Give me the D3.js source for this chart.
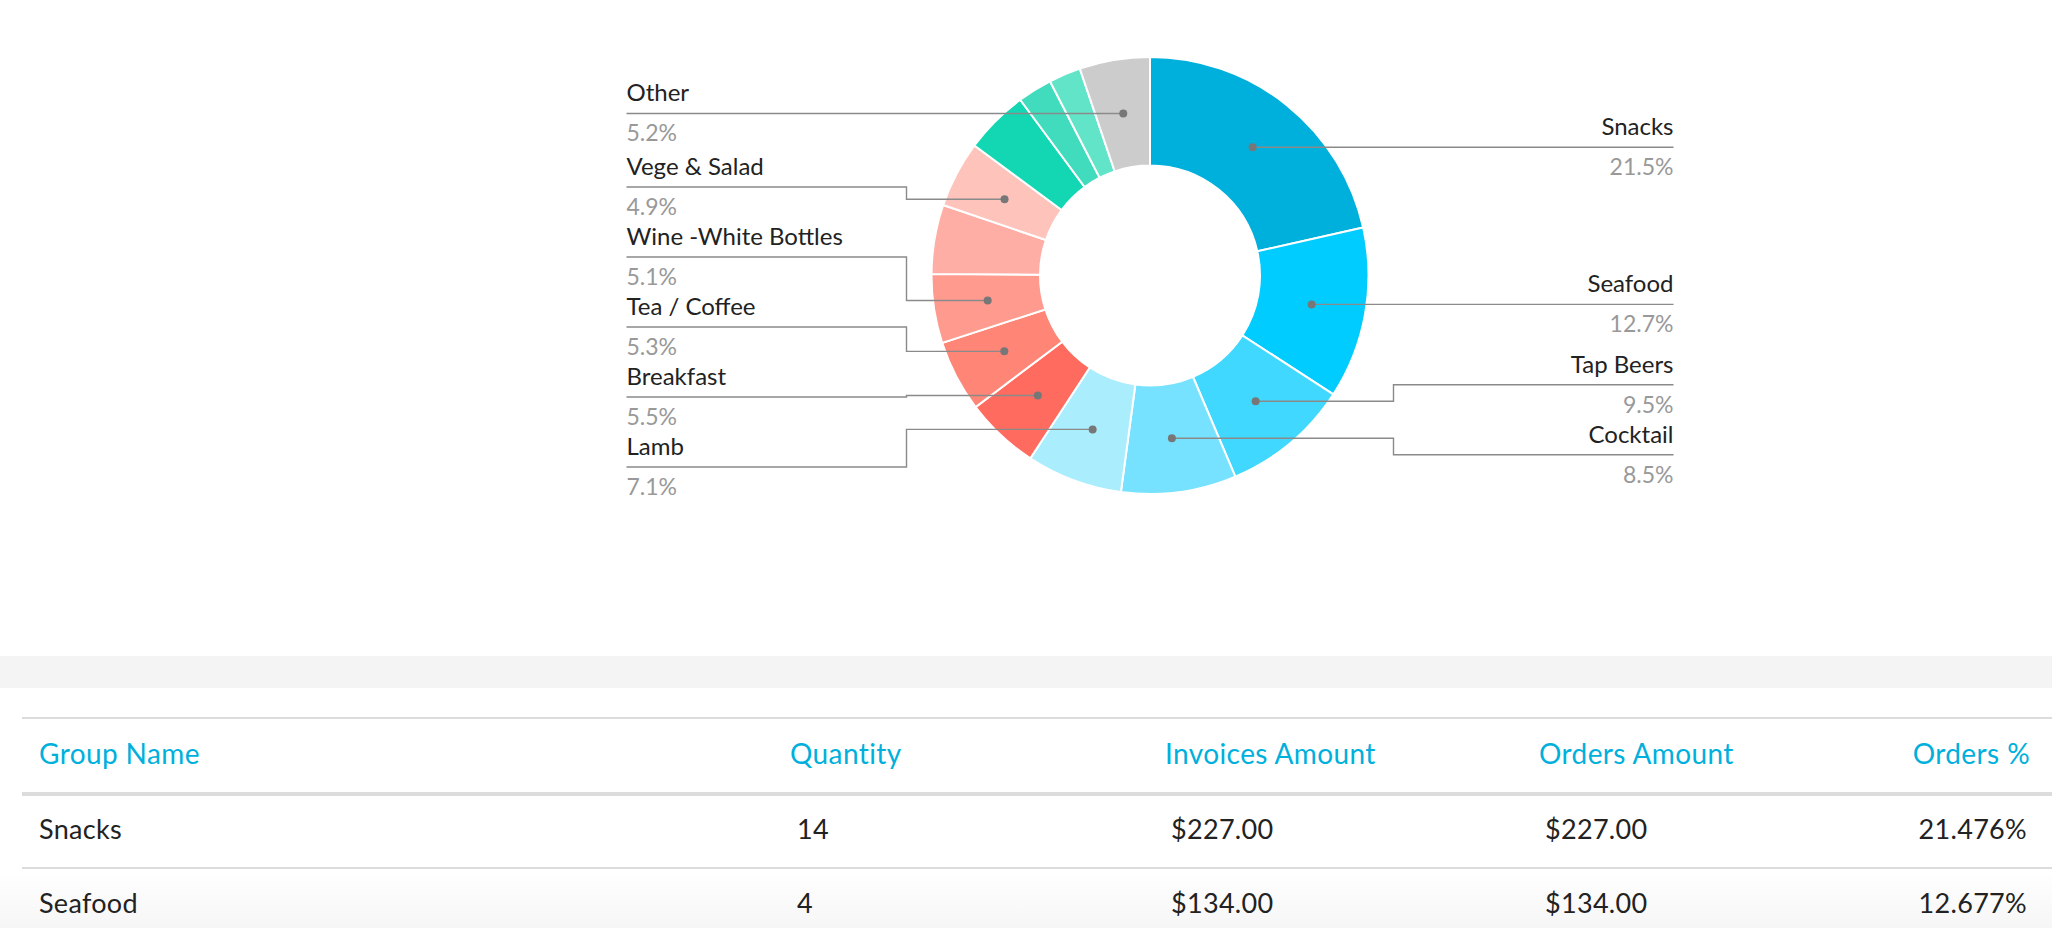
<!DOCTYPE html>
<html>
<head>
<meta charset="utf-8">
<script src="https://cdn.jsdelivr.net/npm/d3@7/dist/d3.min.js"></script>
<style>
  body { margin: 0; background: #fff; overflow: hidden; font-family: Lato, "Open Sans", sans-serif; }
</style>
</head>
<body>
<svg id="page"></svg>
<script>
// slices, clockwise from 12 o'clock
const categories = ["Snacks", "Seafood", "Tap Beers", "Cocktail", "Lamb", "Breakfast", "Tea / Coffee",
  "Wine -White Bottles", "Wine -Red Bottles", "Vege & Salad", "Desserts", "Soft Drinks", "Juice", "Other"];
const amounts = [227, 134, 100, 90, 75, 58, 56, 54, 54, 52, 50, 27, 25, 55];
const colors = ["#00b0dc", "#00ccff", "#40d8ff", "#77e2ff", "#aaedfd", "#ff6b5e", "#ff8577",
  "#ff9a8f", "#ffaea5", "#fec4bc", "#13d7b3", "#40dcbd", "#62e4c9", "#cccccc"];
// only these got a label on the chart
const labelled = ["Snacks", "Seafood", "Tap Beers", "Cocktail", "Lamb", "Breakfast", "Tea / Coffee",
  "Wine -White Bottles", "Vege & Salad", "Other"];

// table (first rows visible)
const tableHeaders = ["Group Name", "Quantity", "Invoices Amount", "Orders Amount", "Orders %"];
const tableGroups = ["Snacks", "Seafood"];
const tableQuantities = [14, 4];

const W = 2052, H = 928;
const cx = 1150, cy = 275.5, R = 218.5, r0 = 110;

const svg = d3.select("#page").attr("width", W).attr("height", H);

const total = d3.sum(amounts);
const data = categories.map((c, i) => ({ name: c, amount: amounts[i], color: colors[i] }));

const pie = d3.pie().sort(null).value(d => d.amount);
const arc = d3.arc().innerRadius(r0).outerRadius(R);
const arcs = pie(data);

const g = svg.append("g").attr("transform", `translate(${cx},${cy})`);

g.selectAll("path.slice")
  .data(arcs)
  .join("path")
  .attr("class", "slice")
  .attr("d", arc)
  .attr("fill", d => d.data.color)
  .attr("stroke", "#fff")
  .attr("stroke-width", 2);

// label layout: keep labels apart on each side
const gap = 70, yMin = -R, yMax = R - 27;
let labels = arcs.filter(d => labelled.includes(d.data.name)).map(d => {
  const c = arc.centroid(d);
  const mid = (d.startAngle + d.endAngle) / 2;
  return { d: d, c: c, y0: c[1], y: c[1], right: mid < Math.PI };
});

function relax(items) {
  items.sort((a, b) => a.y0 - b.y0);
  for (let k = 0; k < 300; k++) {
    for (let i = 1; i < items.length; i++) {
      const a = items[i - 1], b = items[i], o = gap - (b.y - a.y);
      if (o > 0) { a.y -= o / 2; b.y += o / 2; }
    }
    items.forEach(p => p.y = Math.max(yMin, Math.min(yMax, p.y)));
  }
}
relax(labels.filter(p => p.right));
relax(labels.filter(p => !p.right));

const elbow = R + 25, textX = R + 305;

const lab = g.selectAll("g.label").data(labels).join("g").attr("class", "label");

lab.append("polyline")
  .attr("points", p => {
    const s = p.right ? 1 : -1;
    return [[p.c[0], p.c[1]], [s * elbow, p.c[1]], [s * elbow, p.y], [s * textX, p.y]].join(" ");
  })
  .attr("fill", "none")
  .attr("stroke", "#8a8a8a")
  .attr("stroke-width", 1.4);

lab.append("circle")
  .attr("cx", p => p.c[0])
  .attr("cy", p => p.c[1])
  .attr("r", 4)
  .attr("fill", "#777");

lab.append("text")
  .attr("x", p => p.right ? textX : -textX)
  .attr("y", p => p.y - 12)
  .attr("text-anchor", p => p.right ? "end" : "start")
  .attr("font-size", 24)
  .attr("fill", "#222")
  .text(p => p.d.data.name);

lab.append("text")
  .attr("x", p => p.right ? textX : -textX)
  .attr("y", p => p.y + 28)
  .attr("text-anchor", p => p.right ? "end" : "start")
  .attr("font-size", 23)
  .attr("fill", "#999")
  .text(p => d3.format(".1f")(p.d.data.amount / total * 100) + "%");

// ---- table below the chart
svg.append("rect").attr("x", 0).attr("y", 656).attr("width", W).attr("height", 32).attr("fill", "#f4f4f4");

const grad = svg.append("defs").append("linearGradient").attr("id", "fade").attr("x1", 0).attr("y1", 0).attr("x2", 0).attr("y2", 1);
grad.append("stop").attr("offset", 0).attr("stop-color", "#fff");
grad.append("stop").attr("offset", 1).attr("stop-color", "#f6f6f6");
svg.append("rect").attr("x", 0).attr("y", 872).attr("width", W).attr("height", H - 872).attr("fill", "url(#fade)");

const colX = [39, 790, 1165, 1539, 2030];
const cellX = [39, 797, 1171, 1545, 2027];
const colAnchor = ["start", "start", "start", "start", "end"];
const tableLeft = 22, headTop = 718, headBase = 764, headLine = 794, rowH = 74;

svg.append("line").attr("x1", tableLeft).attr("x2", W).attr("y1", headTop).attr("y2", headTop)
  .attr("stroke", "#dcdcdc").attr("stroke-width", 2);

svg.selectAll("text.head").data(tableHeaders).join("text")
  .attr("class", "head")
  .attr("x", (d, i) => colX[i]).attr("y", headBase)
  .attr("text-anchor", (d, i) => colAnchor[i])
  .attr("font-size", 28).attr("letter-spacing", 0.4).attr("fill", "#00b0dc")
  .text(d => d);

svg.append("line").attr("x1", tableLeft).attr("x2", W).attr("y1", headLine).attr("y2", headLine)
  .attr("stroke", "#dcdcdc").attr("stroke-width", 4);

const money = d3.format("$,.2f");
const rows = tableGroups.map((name, i) => {
  const amt = amounts[categories.indexOf(name)];
  return [name, tableQuantities[i], money(amt), money(amt), d3.format(".3f")(amt / total * 100) + "%"];
});

const row = svg.selectAll("g.row").data(rows).join("g")
  .attr("class", "row")
  .attr("transform", (d, i) => `translate(0,${headLine + i * rowH})`);

row.selectAll("text").data(d => d).join("text")
  .attr("x", (d, i) => cellX[i]).attr("y", 45)
  .attr("text-anchor", (d, i) => colAnchor[i])
  .attr("font-size", 27).attr("letter-spacing", 0.3).attr("fill", "#222")
  .text(d => d);

row.append("line").attr("x1", tableLeft).attr("x2", W).attr("y1", rowH).attr("y2", rowH)
  .attr("stroke", "#dcdcdc").attr("stroke-width", 2);
</script>
</body>
</html>
